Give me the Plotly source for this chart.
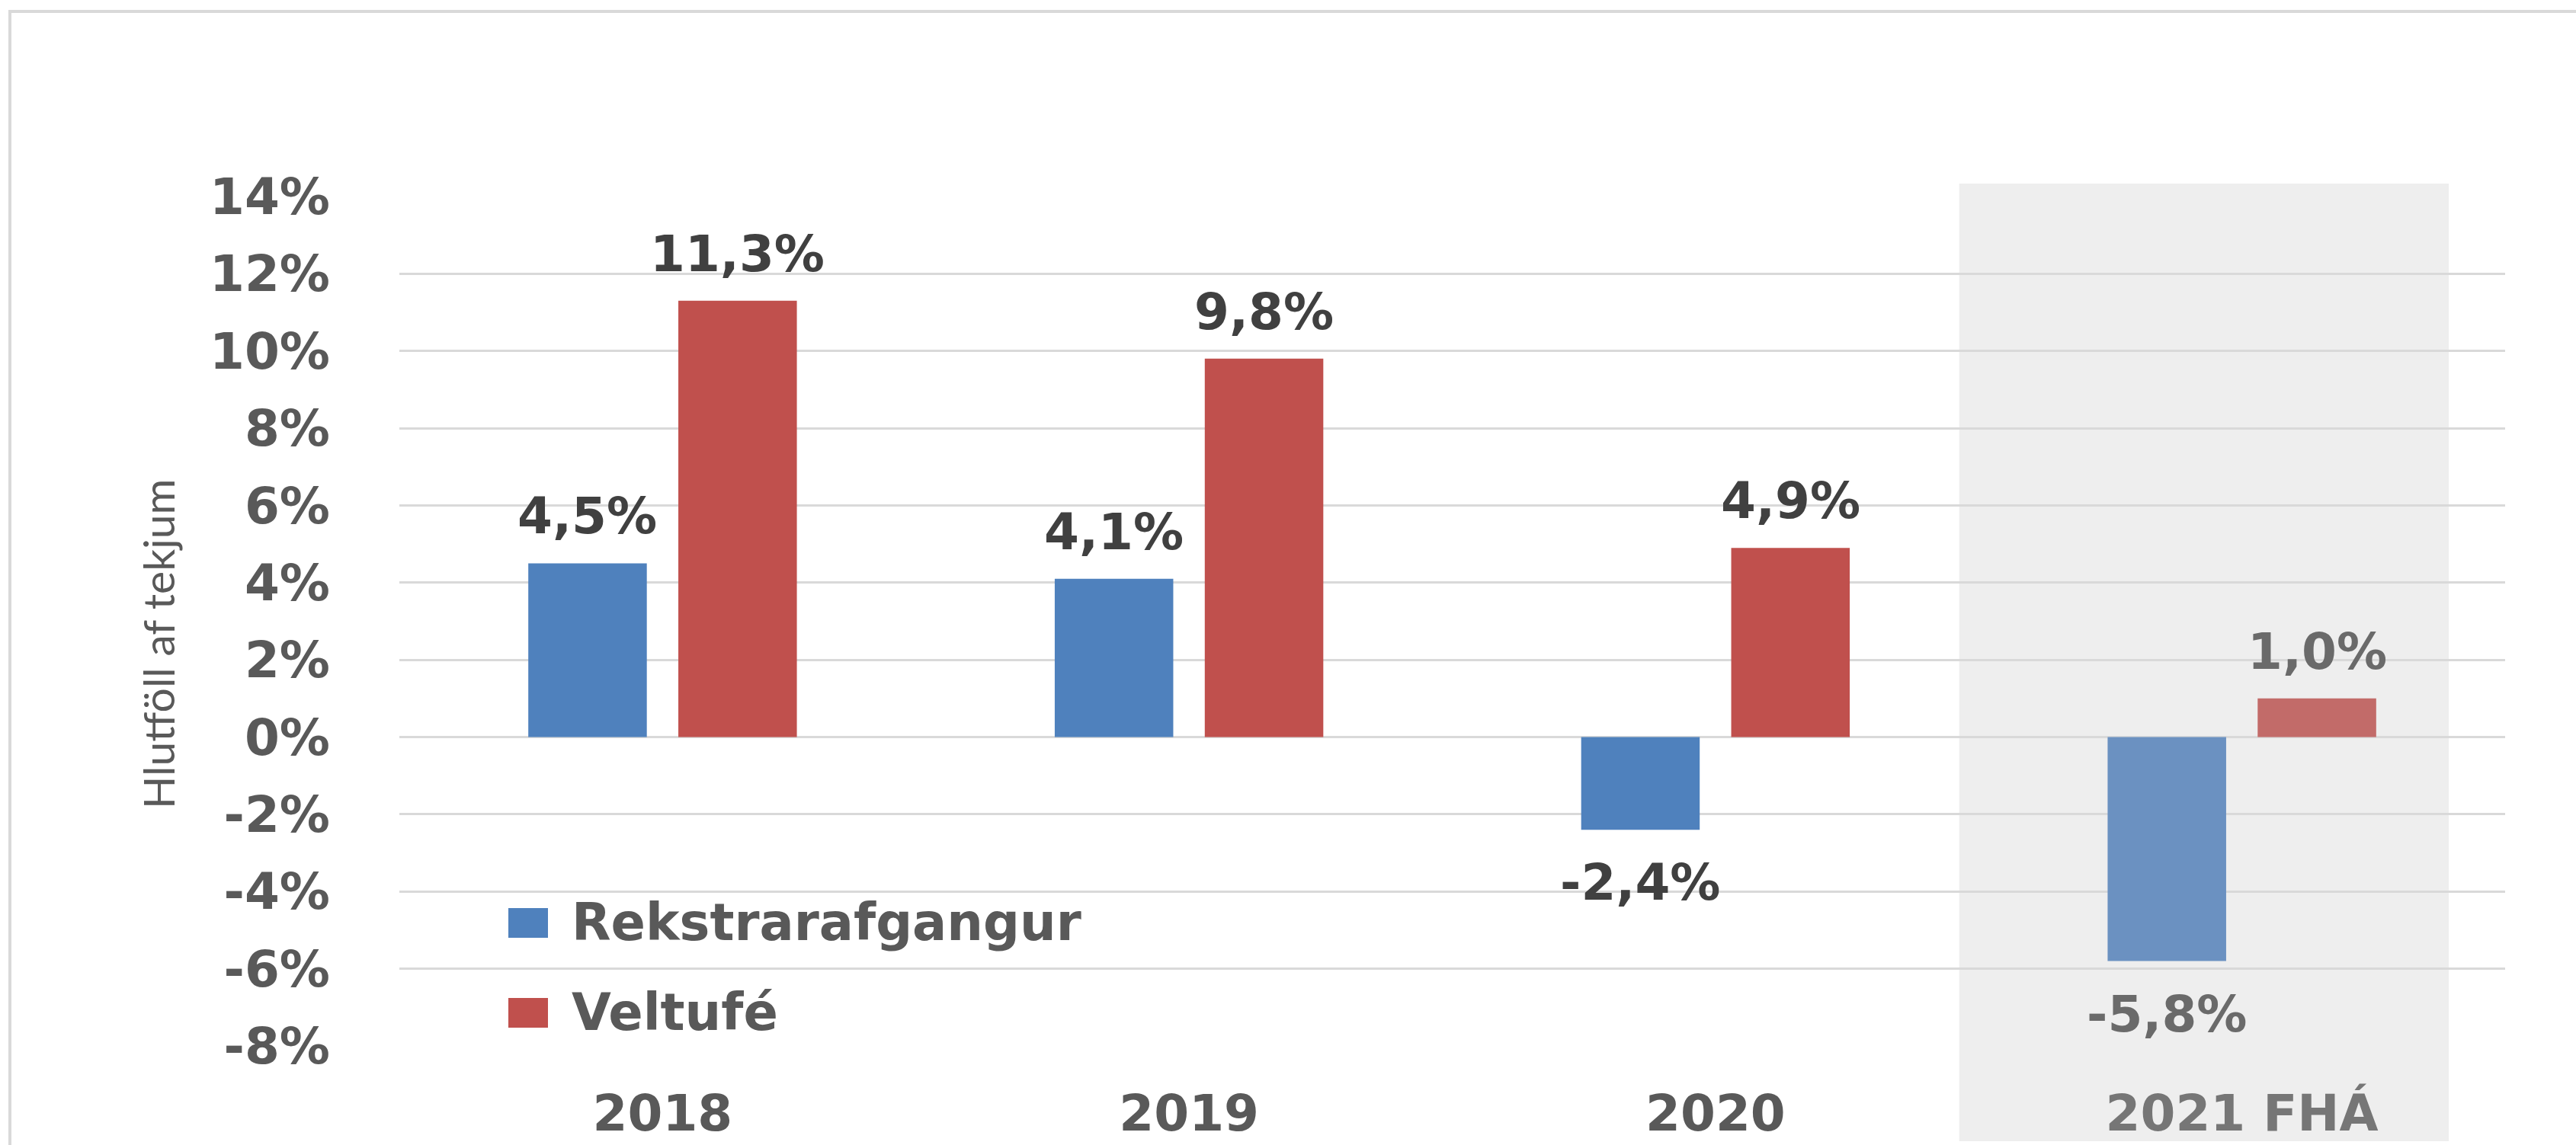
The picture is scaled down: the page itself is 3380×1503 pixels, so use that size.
import plotly.graph_objects as go

# ---------------- data ----------------
categories = ["2018", "2019", "2020", "2021 FHÁ"]
forecast_category = "2021 FHÁ"
series_names = ["Rekstrarafgangur", "Veltufé"]
rekstrarafgangur = [4.5, 4.1, -2.4, -5.8]
veltufe = [11.3, 9.8, 4.9, 1.0]
y_tick_values = [14, 12, 10, 8, 6, 4, 2, 0, -2, -4, -6, -8]
y_tick_labels = ["14%", "12%", "10%", "8%", "6%", "4%", "2%", "0%", "-2%", "-4%", "-6%", "-8%"]
y_axis_title = "Hlutföll af tekjum"

# ---------------- styles ----------------
W, H = 3380, 1503
L, R, T, B = 524, 93, 258, 130
PW, PH = W - L - R, H - T - B
BARGAP, BARGROUPGAP = 0.43, 0.21

BLUE, BLUE_F = "#4F81BD", "#6B91C1"
RED, RED_F = "#C0504D", "#C26B69"
LABEL_C, LABEL_F = "#404040", "#6A6A6A"
AXIS_C, AXIS_F = "#595959", "#767676"
GRID_C = "#D9D9D9"
BOLD_FONT = dict(family="DejaVu Sans", size=66, color=AXIS_C, weight="bold")


def px_x(p):
    return (p - L) / PW


def px_y(p):
    return (H - B - p) / PH


def fmt(v):
    return f"{v:.1f}".replace(".", ",") + "%"


is_fc = [c == forecast_category for c in categories]
series = [
    (series_names[0], rekstrarafgangur, BLUE, BLUE_F),
    (series_names[1], veltufe, RED, RED_F),
]

fig = go.Figure()
annotations = []
n_series = len(series)
slot = (1 - BARGAP) / n_series
for si, (name, vals, col, col_f) in enumerate(series):
    fig.add_trace(go.Bar(
        x=categories, y=vals, name=name,
        marker=dict(color=[col_f if f else col for f in is_fc], line=dict(width=0)),
        showlegend=False,
        hoverinfo="skip",
    ))
    # value labels placed on the data scale, centred over each grouped bar
    offset = -(1 - BARGAP) / 2 + slot * (si + 0.5)
    for ci, (v, f) in enumerate(zip(vals, is_fc)):
        annotations.append(dict(
            xref="x", yref="y", x=ci + offset, y=v,
            xanchor="center", yanchor="bottom" if v >= 0 else "top",
            yshift=21 if v >= 0 else -29,
            showarrow=False, text=fmt(v),
            font=dict(family="DejaVu Sans", size=66, weight="bold",
                      color=LABEL_F if f else LABEL_C),
        ))

tick_text = [
    f"<span style='color:{AXIS_F}'>{c}</span>" if f else c
    for c, f in zip(categories, is_fc)
]

fc_idx = categories.index(forecast_category)
shapes = [
    # outer chart border (left and top edges visible)
    dict(type="rect", xref="paper", yref="paper",
         x0=px_x(13), x1=px_x(W + 40), y0=px_y(H + 40), y1=px_y(15),
         line=dict(color=GRID_C, width=4), fillcolor="rgba(0,0,0,0)", layer="below"),
    # forecast highlight band
    dict(type="rect", xref="x", yref="paper",
         x0=fc_idx - 0.537, x1=fc_idx + 0.393, y0=px_y(1498), y1=px_y(241),
         line=dict(width=0), fillcolor="#EEEEEE", layer="below"),
]

# manual legend (large square keys)
for i, (name, col) in enumerate(zip(series_names, [BLUE, RED])):
    cy = 1211 + i * 118
    shapes.append(dict(type="rect", xref="paper", yref="paper",
                       x0=px_x(667), x1=px_x(719), y0=px_y(cy + 20), y1=px_y(cy - 19),
                       line=dict(width=0), fillcolor=col))
    annotations.append(dict(xref="paper", yref="paper", x=px_x(748), y=px_y(cy),
                            xanchor="left", yanchor="middle", showarrow=False,
                            text=name, font=dict(BOLD_FONT, size=67)))

annotations.append(dict(xref="paper", yref="paper", x=px_x(207), y=px_y(845),
                        xanchor="center", yanchor="middle", showarrow=False,
                        textangle=-90, text=y_axis_title,
                        font=dict(family="Lato", size=57, color=AXIS_C)))

fig.update_layout(
    width=W, height=H,
    margin=dict(l=L, r=R, t=T, b=B, autoexpand=False),
    paper_bgcolor="white", plot_bgcolor="rgba(0,0,0,0)",
    barmode="group", bargap=BARGAP, bargroupgap=BARGROUPGAP,
    showlegend=False,
    shapes=shapes, annotations=annotations,
    xaxis=dict(type="category", categoryorder="array", categoryarray=categories,
               tickvals=categories, ticktext=tick_text,
               showgrid=False, zeroline=False, showline=False, ticks="",
               tickfont=BOLD_FONT, ticklabelstandoff=44),
    yaxis=dict(range=[-8, 14], tickvals=y_tick_values, ticktext=y_tick_labels,
               showgrid=True, gridcolor=GRID_C, gridwidth=3,
               zeroline=True, zerolinecolor=GRID_C, zerolinewidth=3,
               showline=False, ticks="", tickfont=BOLD_FONT, ticklabelstandoff=90),
)

fig.write_html(
    "out.html",
    config={"displayModeBar": False},
    post_script="document.body.style.margin='0';document.body.style.overflow='hidden';",
)
